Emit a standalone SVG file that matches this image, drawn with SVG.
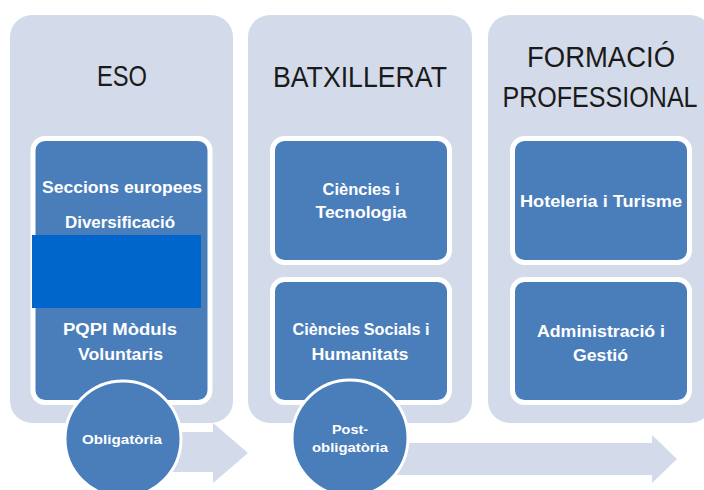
<svg xmlns="http://www.w3.org/2000/svg" width="704" height="490" viewBox="0 0 704 490">
<style>
.panel{fill:#D3DAE9}
.arrow{fill:#D3DAE9}
.box{fill:#4A7EBB;stroke:#FFFFFF;stroke-width:5}
.circ{fill:#4A7EBB;stroke:#FFFFFF;stroke-width:3}
.title{font-family:"Liberation Sans",Arial,sans-serif;font-size:29px;fill:#1A1A1A;text-anchor:middle}
.lbl{font-family:"Liberation Sans",Arial,sans-serif;font-size:16px;font-weight:bold;fill:#FFFFFF;text-anchor:middle}
.clbl{font-family:"Liberation Sans",Arial,sans-serif;font-size:13px;font-weight:bold;fill:#FFFFFF;text-anchor:middle}
</style>
<rect width="704" height="490" fill="#FFFFFF"/>
<g id="col-eso">
<rect class="panel" x="10" y="15" width="223" height="408" rx="22"/>
</g>
<g id="col-batx">
<rect class="panel" x="248" y="15" width="224" height="408" rx="22"/>
</g>
<g id="col-fp">
<rect class="panel" x="488" y="15" width="224" height="408" rx="22"/>
</g>
<g id="connectors">
<polygon class="arrow" points="150,432 213,432 213,423 248,453 213,483 213,472 150,472"/>
<polygon class="arrow" points="380,443 652,443 652,435 677,459 652,483 652,475 380,475"/>
</g>
<g id="eso-box">
<rect class="box" x="33" y="138.5" width="177" height="264" rx="12"/>
<text class="lbl" x="122" y="193" textLength="160" lengthAdjust="spacingAndGlyphs">Seccions europees</text>
<text class="lbl" x="120" y="228" textLength="110" lengthAdjust="spacingAndGlyphs">Diversificació</text>
<rect x="32" y="235" width="169" height="73" fill="#0066CC"/>
<text class="lbl" x="120" y="335" textLength="114" lengthAdjust="spacingAndGlyphs">PQPI Mòduls</text>
<text class="lbl" x="120.5" y="360" textLength="85" lengthAdjust="spacingAndGlyphs">Voluntaris</text>
</g>
<g id="batx-box1">
<rect class="box" x="272.5" y="138.5" width="177" height="124" rx="12"/>
<text class="lbl" x="361" y="195" textLength="77" lengthAdjust="spacingAndGlyphs">Ciències i</text>
<text class="lbl" x="361" y="218" textLength="91" lengthAdjust="spacingAndGlyphs">Tecnologia</text>
</g>
<g id="batx-box2">
<rect class="box" x="272.5" y="279.5" width="177" height="123" rx="12"/>
<text class="lbl" x="361" y="335" textLength="137" lengthAdjust="spacingAndGlyphs">Ciències Socials i</text>
<text class="lbl" x="360" y="360" textLength="97" lengthAdjust="spacingAndGlyphs">Humanitats</text>
</g>
<g id="fp-box1">
<rect class="box" x="512.5" y="138.5" width="177" height="124" rx="12"/>
<text class="lbl" x="601" y="207" textLength="162" lengthAdjust="spacingAndGlyphs">Hoteleria i Turisme</text>
</g>
<g id="fp-box2">
<rect class="box" x="512.5" y="279.5" width="177" height="123" rx="12"/>
<text class="lbl" x="601" y="337" textLength="128" lengthAdjust="spacingAndGlyphs">Administració i</text>
<text class="lbl" x="600.5" y="361" textLength="55" lengthAdjust="spacingAndGlyphs">Gestió</text>
</g>
<g id="titles">
<text class="title" x="122" y="86" textLength="50" lengthAdjust="spacingAndGlyphs">ESO</text>
<text class="title" x="360" y="87" textLength="174" lengthAdjust="spacingAndGlyphs">BATXILLERAT</text>
<text class="title" x="601" y="67" textLength="148" lengthAdjust="spacingAndGlyphs">FORMACIÓ</text>
<text class="title" transform="translate(600,107) scale(0.865,1)" x="0" y="0">PROFESSIONAL</text>
</g>
<g id="circle-oblig">
<circle class="circ" cx="123" cy="439" r="58"/>
<text class="clbl" x="122" y="444" textLength="80" lengthAdjust="spacingAndGlyphs">Obligatòria</text>
</g>
<g id="circle-post">
<circle class="circ" cx="350" cy="438" r="58"/>
<text class="clbl" x="350" y="434" textLength="36" lengthAdjust="spacingAndGlyphs">Post-</text>
<text class="clbl" x="350" y="452" textLength="76" lengthAdjust="spacingAndGlyphs">obligatòria</text>
</g>
</svg>
